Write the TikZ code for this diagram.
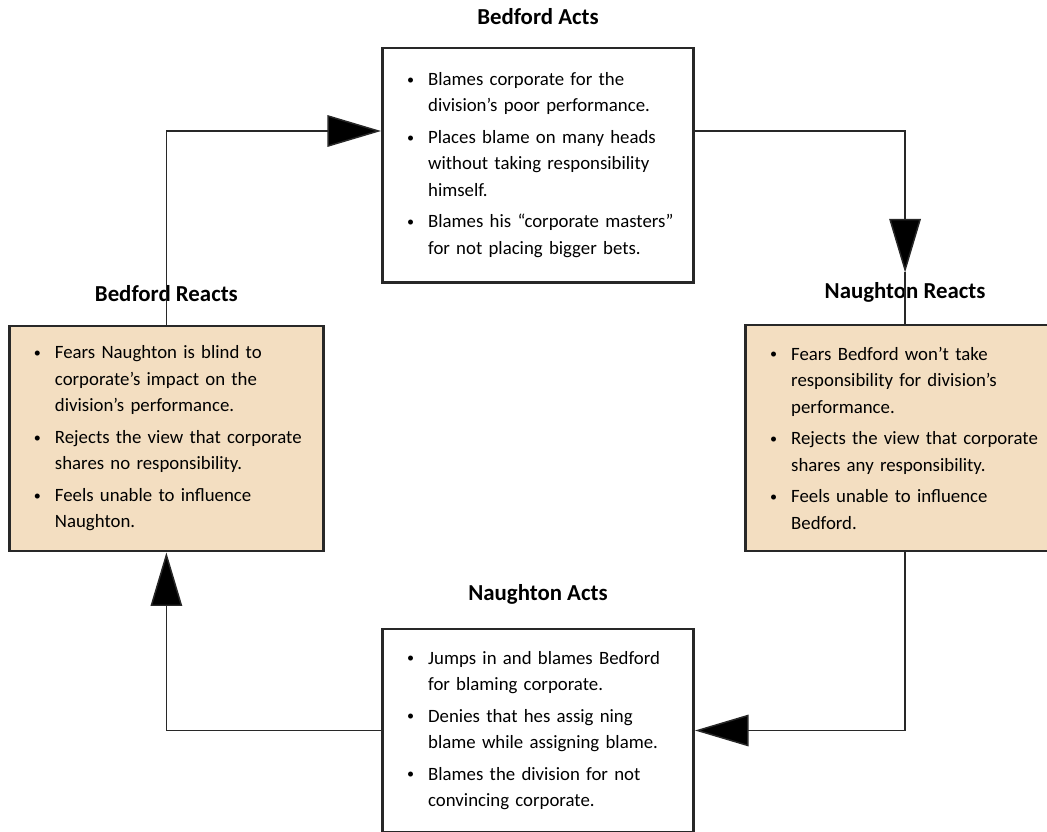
\documentclass[tikz,border=0pt]{standalone}
\usepackage{fontspec}
\setmainfont{Carlito}
\usepackage{xcolor}
\usetikzlibrary{positioning,arrows.meta}
\definecolor{reactfill}{RGB}{243,222,193}
\definecolor{edge}{RGB}{40,40,40}
\newcommand{\bul}[1]{\makebox[12pt][l]{\raisebox{0.15ex}{\scalebox{0.75}{\textbullet}}}\mbox{#1}}
\newcommand{\ind}[1]{\hspace*{12pt}\mbox{#1}}

\begin{document}
\begin{tikzpicture}[
    box/.style={rectangle, draw=edge, line width=1.7pt, align=left, inner xsep=14pt, inner ysep=0pt, font=\fontsize{10.7}{15.1}\selectfont},
    actbox/.style={box, fill=white, text width=149pt},
    reactbox/.style={box, fill=reactfill},
    title/.style={inner sep=0pt, text depth=0pt, font=\bfseries\fontsize{13}{15}\selectfont},
    link/.style={draw=edge, line width=0.85pt},
    arrow/.style={link, -{Triangle[length=1.07cm, width=0.63cm, fill=black]}}
]
\useasboundingbox (-10.76,3.30) rectangle (10.18,-13.32);

% Nodes
\node[actbox, minimum height=4.68cm] (bacts) at (0,0) {\bul{Blames corporate for the}\\ \ind{division’s poor performance.}\\[2.8pt] \bul{Places blame on many heads}\\ \ind{without taking responsibility}\\ \ind{himself.}\\[2.8pt] \bul{Blames his “corporate masters”}\\ \ind{for not placing bigger bets.}};
\node[reactbox, text width=150.8pt, minimum height=4.5cm, below left=0.82cm and 1.12cm of bacts] (breacts) {\bul{Fears Naughton is blind to}\\ \ind{corporate’s impact on the}\\ \ind{division’s performance.}\\[2.8pt] \bul{Rejects the view that corporate}\\ \ind{shares no responsibility.}\\[2.8pt] \bul{Feels unable to influence}\\ \ind{Naughton.}};
\node[reactbox, text width=153.6pt, minimum height=4.52cm, below right=0.8cm and 0.98cm of bacts] (nreacts) {\bul{Fears Bedford won’t take}\\ \ind{responsibility for division’s}\\ \ind{performance.}\\[2.8pt] \bul{Rejects the view that corporate}\\ \ind{shares any responsibility.}\\[2.8pt] \bul{Feels unable to influence}\\ \ind{Bedford.}};
\node[actbox, minimum height=4.06cm, below=6.88cm of bacts] (nacts) {\bul{Jumps in and blames Bedford}\\ \ind{for blaming corporate.}\\[2.8pt] \bul{Denies that hes assig ning}\\ \ind{blame while assigning blame.}\\[2.8pt] \bul{Blames the division for not}\\ \ind{convincing corporate.}};

% Titles
\node[title, above=0.44cm of bacts] (bactstitle) {Bedford Acts};
\node[title, above=0.46cm of breacts] (breactstitle) {Bedford Reacts};
\node[title, above=0.5cm of nreacts] (nreactstitle) {Naughton Reacts};
\node[title, above=0.54cm of nacts] (nactstitle) {Naughton Acts};

% Arrows
\coordinate (ntip) at ([yshift=1.02cm]nreacts.north);
\draw[arrow] (breacts.north) |- ([yshift=0.68cm]bacts.west);
\draw[arrow] ([yshift=0.68cm]bacts.east) -| (ntip);
\draw[link] (ntip) -- (nreacts.north);
\draw[arrow] (nreacts.south) |- (nacts.east);
\draw[arrow] (nacts.west) -| (breacts.south);

\end{tikzpicture}
\end{document}
